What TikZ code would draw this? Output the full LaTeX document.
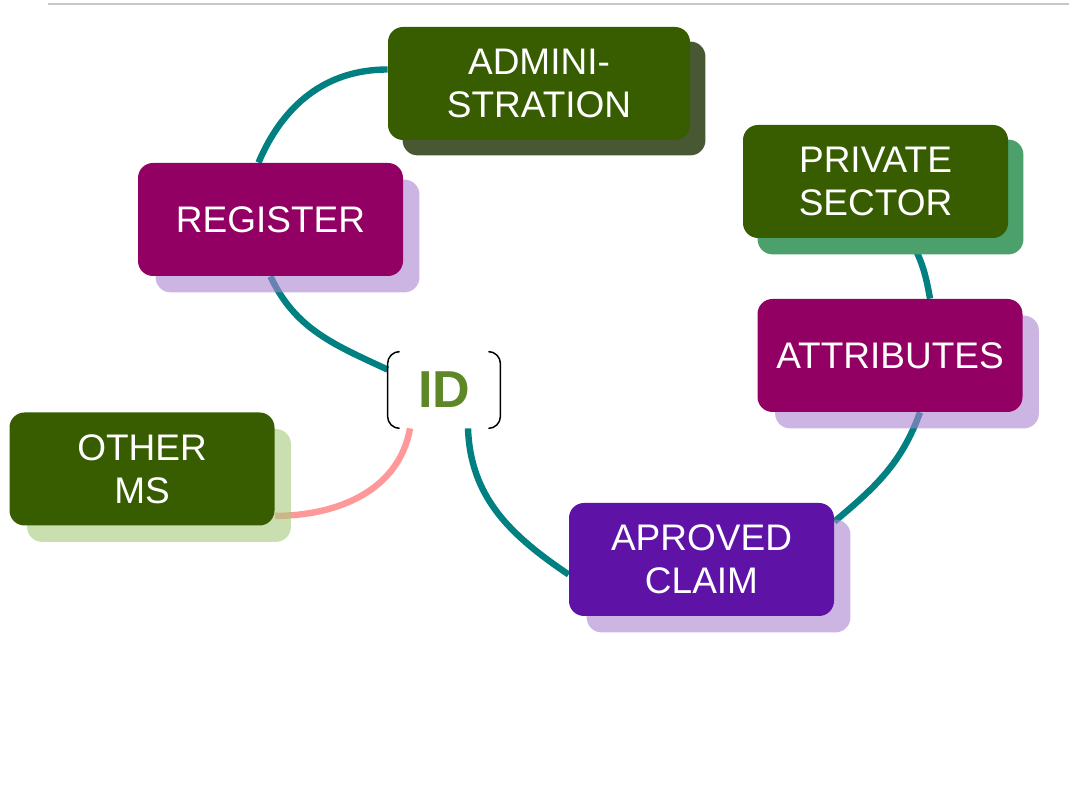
\documentclass[tikz,border=0pt]{standalone}
\usepackage{fontspec}
\setmainfont{Liberation Sans}
\usepackage{tikz}
\usetikzlibrary{positioning,backgrounds}

\definecolor{boxgreen}{RGB}{55,93,0}
\definecolor{boxmagenta}{RGB}{147,0,99}
\definecolor{boxpurple}{RGB}{94,18,166}
\definecolor{shadelilac}{RGB}{172,132,208}
\definecolor{shadelime}{RGB}{167,202,123}
\definecolor{shadeolive}{RGB}{72,88,50}
\definecolor{shadejade}{RGB}{75,160,107}
\definecolor{linkteal}{RGB}{0,128,128}
\definecolor{linkpink}{RGB}{255,153,153}
\definecolor{idgreen}{RGB}{94,135,40}

\begin{document}
\begin{tikzpicture}[x=0.5pt,y=0.5pt,
  box/.style={rectangle,rounded corners=7.5pt,minimum width=132.5pt,minimum height=56.5pt,
    inner sep=0pt,text=white,align=center,font=\fontsize{18.5}{21.5}\selectfont},
  shade/.style={rounded corners=7.5pt},
  link/.style={line width=3.2pt,linkteal},
  bracket/.style={line width=0.75pt,black,rounded corners=6pt}]

\useasboundingbox (0,0) rectangle (1069,795);

%top rule
\draw[black!22,line width=1pt] (48,791) -- (1069,791);

%boxes
\node[box,fill=boxgreen,minimum width=151pt] (admin) at (539,711.5) {ADMINI-\\STRATION};
\node[box,fill=boxmagenta] (register) at (270.5,575.5) {REGISTER};
\node[box,fill=boxgreen] (private) at (875.5,613.5) {PRIVATE\\SECTOR};
\node[box,fill=boxmagenta] (attributes) at (890,439.5) {ATTRIBUTES};
\node[box,fill=boxgreen] (other) at (142,326) {OTHER\\MS};
\node[box,fill=boxpurple] (claim) at (701.5,235.5) {APROVED\\CLAIM};

%centre
\node[font=\bfseries\fontsize{26}{26}\selectfont,text=idgreen,minimum width=56pt,minimum height=38pt,inner sep=0pt] (id) at (444,405) {ID};
\draw[bracket] ([xshift=6pt]id.north west) -- (id.north west) -- (id.south west) -- ([xshift=6pt]id.south west);
\draw[bracket] ([xshift=-6pt]id.north east) -- (id.north east) -- (id.south east) -- ([xshift=-6pt]id.south east);

\begin{scope}[on background layer]
%links
\draw[link] ([yshift=7pt]admin.west) to[out=180,in=67] ([xshift=-6pt]register.north);
\draw[link] (register.south) to[out=-65,in=155] ([yshift=-9pt]id.north west);
\draw[link] ([xshift=12pt]id.south) to[out=-88,in=146] ([yshift=-7.5pt]claim.west);
\draw[link] ([yshift=-9.5pt]claim.north east) to[out=40,in=-110] ([xshift=15pt]attributes.south);
\draw[link] ([xshift=20pt]attributes.north) to[out=100,in=-60] ([xshift=17pt]private.south);
\draw[link,linkpink] ([xshift=-17pt]id.south) to[out=-100,in=0] ([yshift=5pt]other.south east);

%shadows
\fill[shade,shadeolive] ([shift={(15,-15)}]admin.north west) rectangle ([shift={(15,-15)}]admin.south east);
\fill[shade,shadejade] ([shift={(15,-15)}]private.north west) rectangle ([shift={(15,-16)}]private.south east);
\foreach \n/\c in {register/shadelilac,attributes/shadelilac,claim/shadelilac,other/shadelime}
  \fill[shade,\c,fill opacity=0.6] ([shift={(18,-17)}]\n.north west) rectangle ([shift={(16,-16)}]\n.south east);
\end{scope}

\end{tikzpicture}
\end{document}
